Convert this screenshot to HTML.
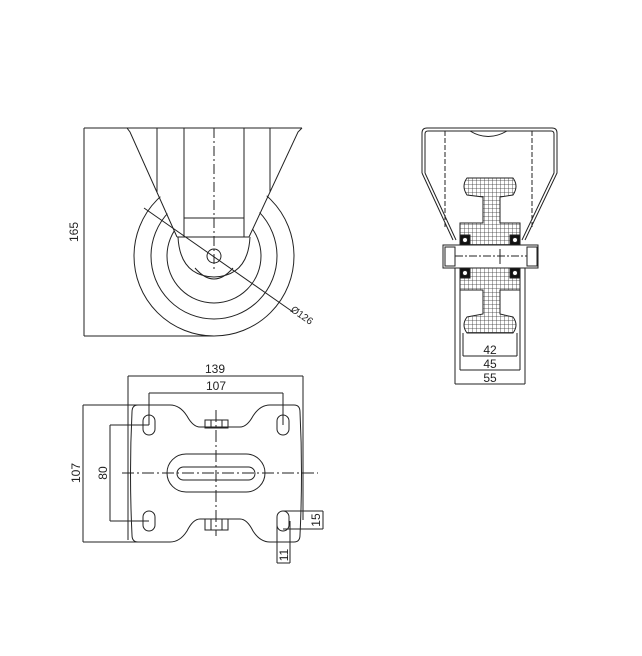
<!DOCTYPE html>
<html><head><meta charset="utf-8"><style>
html,body{margin:0;padding:0;background:#fff;}
svg{display:block;}
text{font-family:"Liberation Sans",sans-serif;font-size:12px;fill:#222;}
</style></head><body>
<svg width="642" height="656" viewBox="0 0 642 656" xmlns="http://www.w3.org/2000/svg">
<defs>
<pattern id="hatch" width="4" height="4" patternUnits="userSpaceOnUse">
<rect width="4" height="4" fill="#fff"/>
<path d="M0,0H4M0,0V4" stroke="#333" stroke-width="0.8"/>
</pattern>
</defs>
<g fill="none" stroke="#222" stroke-width="1">
<circle cx="214" cy="256" r="80"/>
<circle cx="214" cy="256" r="63"/>
<circle cx="214" cy="256" r="47"/>
<path d="M132,128 L296,128 L249,237 Q248,276 214,277 Q180,276 177,237 Z" fill="#fff" stroke="none"/>
<line x1="84" y1="128" x2="302" y2="128"/>
<line x1="84" y1="128" x2="84" y2="336"/>
<line x1="84" y1="336" x2="214" y2="336"/>
<path d="M127,128 L130,132 L177,237"/>
<path d="M302,128 L298,132 L249,237"/>
<line x1="157" y1="128" x2="157" y2="192"/>
<line x1="270" y1="128" x2="270" y2="192"/>
<line x1="184" y1="128" x2="184" y2="237"/>
<line x1="244" y1="128" x2="244" y2="237"/>
<line x1="184" y1="218" x2="244" y2="218"/>
<line x1="177" y1="237" x2="249" y2="237"/>
<path d="M178,237 Q180,276 214,277 Q248,276 250,237"/>
<path d="M195,268 Q214,290 233,268"/>
<circle cx="214" cy="256" r="7"/>
<line x1="214" y1="128" x2="214" y2="270" stroke-dasharray="10,3,2,3"/>
<line x1="144" y1="208" x2="293" y2="312"/>
<path d="M422,173 L422,133 Q422,128 427,128 L552,128 Q557,128 557,133 L557,173 L525,240"/>
<path d="M422,173 L453,240"/>
<path d="M425,173 L425,134 Q425,131 428,131 L551,131 Q554,131 554,134 L554,173 L522,240"/>
<path d="M425,173 L456,240"/>
<line x1="445" y1="131" x2="445" y2="228" stroke-dasharray="5,2"/>
<line x1="532" y1="131" x2="532" y2="228" stroke-dasharray="5,2"/>
<path d="M470,131 Q488,142 507,131"/>
<path d="M467,178 L513,178 Q519,186 513,195 L500,197 L500,223 L520,223 L520,290 L500,290 L500,314 L513,317 Q519,325 513,333 L467,333 Q461,325 467,317 L483,314 L483,290 L460,290 L460,223 L483,223 L483,197 L467,195 Q461,186 467,178 Z" fill="url(#hatch)"/>
<rect x="460" y="235" width="10" height="10" fill="#111"/>
<rect x="510" y="235" width="10" height="10" fill="#111"/>
<rect x="460" y="268" width="10" height="10" fill="#111"/>
<rect x="510" y="268" width="10" height="10" fill="#111"/>
<circle cx="465" cy="240" r="2.5" fill="#fff"/>
<circle cx="515" cy="240" r="2.5" fill="#fff"/>
<circle cx="465" cy="273" r="2.5" fill="#fff"/>
<circle cx="515" cy="273" r="2.5" fill="#fff"/>
<rect x="443" y="245" width="95" height="23" fill="#fff"/>
<rect x="445" y="247" width="10" height="19" fill="#fff"/>
<rect x="527" y="247" width="10" height="19" fill="#fff"/>
<line x1="455" y1="256" x2="527" y2="256" stroke-dasharray="8,2,2,2"/>
<line x1="500" y1="249" x2="500" y2="264"/>
<line x1="455" y1="268" x2="455" y2="384"/>
<line x1="525" y1="268" x2="525" y2="384"/>
<line x1="460" y1="290" x2="460" y2="370"/>
<line x1="520" y1="290" x2="520" y2="370"/>
<line x1="463" y1="333" x2="463" y2="356"/>
<line x1="517" y1="333" x2="517" y2="356"/>
<line x1="463" y1="356" x2="517" y2="356"/>
<line x1="460" y1="370" x2="520" y2="370"/>
<line x1="455" y1="384" x2="525" y2="384"/>
<line x1="128" y1="376" x2="303" y2="376"/>
<line x1="128" y1="376" x2="128" y2="540"/>
<line x1="303" y1="376" x2="303" y2="520"/>
<line x1="149" y1="393" x2="283" y2="393"/>
<line x1="149" y1="393" x2="149" y2="425"/>
<line x1="283" y1="393" x2="283" y2="425"/>
<path d="M138,405 L170,405 Q180,405 187,416 Q193,427 200,427 L240,427 Q247,427 253,416 Q260,405 270,405 L294,405 Q300,405 300,412 Q303,473 300,535 Q300,542 294,542 L270,542 Q260,542 253,531 Q247,519 240,519 L200,519 Q193,519 187,531 Q180,542 170,542 L138,542 Q132,542 132,535 Q129,473 132,412 Q132,405 138,405 Z"/>
<rect x="143" y="415" width="12" height="20" rx="6"/>
<rect x="277" y="415" width="12" height="20" rx="6"/>
<rect x="143" y="511" width="12" height="20" rx="6"/>
<rect x="277" y="511" width="12" height="20" rx="6"/>
<rect x="167" y="454" width="98" height="38" rx="19"/>
<rect x="177" y="467" width="78" height="13" rx="6.5"/>
<rect x="205" y="420" width="23" height="8"/>
<line x1="211" y1="420" x2="211" y2="428"/><line x1="222" y1="420" x2="222" y2="428"/>
<rect x="205" y="519" width="23" height="11"/>
<line x1="211" y1="519" x2="211" y2="530"/><line x1="222" y1="519" x2="222" y2="530"/>
<line x1="122" y1="473" x2="318" y2="473" stroke-dasharray="12,3,2,3"/>
<line x1="216" y1="410" x2="216" y2="536" stroke-dasharray="12,3,2,3"/>
<line x1="83" y1="405" x2="150" y2="405"/>
<line x1="83" y1="542" x2="150" y2="542"/>
<line x1="83" y1="405" x2="83" y2="542"/>
<line x1="110" y1="425" x2="149" y2="425"/>
<line x1="110" y1="521" x2="149" y2="521"/>
<line x1="110" y1="425" x2="110" y2="521"/>
<line x1="283" y1="511" x2="323" y2="511"/>
<line x1="283" y1="529" x2="323" y2="529"/>
<line x1="323" y1="511" x2="323" y2="529"/>
<line x1="277" y1="521" x2="277" y2="563"/>
<line x1="290" y1="521" x2="290" y2="563"/>
<line x1="277" y1="563" x2="290" y2="563"/>
</g>
<text x="78" y="232" transform="rotate(-90 78 232)" text-anchor="middle">165</text>
<text x="300" y="318" transform="rotate(35 300 318)" text-anchor="middle" style="font-size:10px">Ø126</text>
<text x="490" y="354" text-anchor="middle">42</text>
<text x="490" y="368" text-anchor="middle">45</text>
<text x="490" y="382" text-anchor="middle">55</text>
<text x="215" y="373" text-anchor="middle">139</text>
<text x="216" y="390" text-anchor="middle">107</text>
<text x="80" y="473" transform="rotate(-90 80 473)" text-anchor="middle">107</text>
<text x="107" y="473" transform="rotate(-90 107 473)" text-anchor="middle">80</text>
<text x="320" y="520" transform="rotate(-90 320 520)" text-anchor="middle">15</text>
<text x="288" y="555" transform="rotate(-90 288 555)" text-anchor="middle">11</text>
</svg>
</body></html>
